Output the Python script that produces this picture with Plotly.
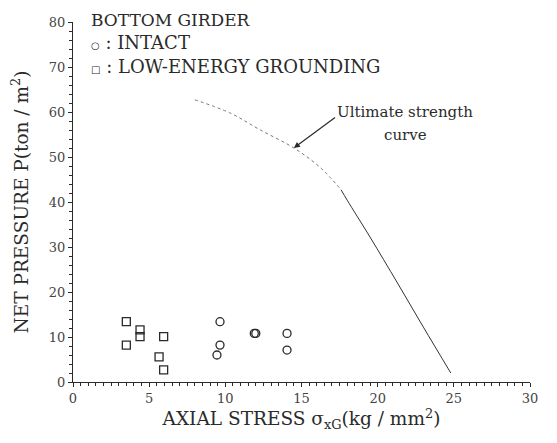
import plotly.graph_objects as go

# Data
intact_x = [9.65, 9.65, 9.45, 11.9, 12.0, 14.05, 14.05]
intact_y = [13.4, 8.2, 6.0, 10.8, 10.8, 10.8, 7.1]

ground_x = [3.5, 3.5, 4.4, 4.4, 5.95, 5.65, 5.95]
ground_y = [13.4, 8.2, 11.6, 10.1, 10.1, 5.6, 2.7]

curve_dot_x = [8.0, 10.3, 12.3, 14.5, 16.25, 17.6]
curve_dot_y = [62.7, 59.8, 56.0, 52.0, 47.6, 42.7]
curve_solid_x = [17.6, 18.0, 19.5, 21.3, 23.0, 24.8]
curve_solid_y = [42.7, 40.4, 32.2, 22.0, 12.2, 2.0]

x_ticks = [0, 5, 10, 15, 20, 25, 30]
y_ticks = [0, 10, 20, 30, 40, 50, 60, 70, 80]

FONT = "DejaVu Serif"
INK = "#2a2a2a"

# page body has an 8px margin
W, H = 549, 435
L, R, T, B = 65, 27, 14, 61
PW, PH = W - L - R, H - T - B

fig = go.Figure()
fig.add_trace(go.Scatter(x=curve_dot_x, y=curve_dot_y, mode="lines", line_shape="spline",
                         line=dict(color="#777", width=1, dash="dot"),
                         showlegend=False, hoverinfo="skip"))
fig.add_trace(go.Scatter(x=curve_solid_x, y=curve_solid_y, mode="lines", line_shape="spline",
                         line=dict(color="#333", width=1),
                         showlegend=False, hoverinfo="skip"))
fig.add_trace(go.Scatter(x=intact_x, y=intact_y, mode="markers",
                         marker=dict(symbol="circle-open", size=8, color=INK,
                                     line=dict(width=1.3, color=INK)),
                         name="INTACT", showlegend=False))
fig.add_trace(go.Scatter(x=ground_x, y=ground_y, mode="markers",
                         marker=dict(symbol="square-open", size=8, color=INK,
                                     line=dict(width=1.3, color=INK)),
                         name="LOW-ENERGY GROUNDING", showlegend=False))

annots = [
    dict(x=(89 - 73) / PW, y=1 + (T - 0.5) / PH, xref="paper", yref="paper",
         text="BOTTOM GIRDER",
         showarrow=False, xanchor="left", yanchor="top",
         font=dict(family=FONT, size=17, color=INK)),
    dict(x=1.05, y=75.5, xref="x", yref="y",
         text="<span style='font-size:10px'>○</span> : INTACT",
         showarrow=False, xanchor="left", yanchor="middle",
         font=dict(family=FONT, size=18, color=INK)),
    dict(x=1.05, y=70.2, xref="x", yref="y",
         text="<span style='font-size:10px'>□</span> : LOW-ENERGY GROUNDING",
         showarrow=False, xanchor="left", yanchor="middle",
         font=dict(family=FONT, size=18, color=INK)),
    dict(x=21.8, y=60.0, xref="x", yref="y", text="Ultimate strength",
         showarrow=False, xanchor="center", yanchor="middle",
         font=dict(family=FONT, size=15, color=INK)),
    dict(x=21.8, y=55.0, xref="x", yref="y", text="curve",
         showarrow=False, xanchor="center", yanchor="middle",
         font=dict(family=FONT, size=15, color=INK)),
    dict(x=14.5, y=52.0, xref="x", yref="y", ax=17.3, ay=59.0,
         axref="x", ayref="y", text="", showarrow=True,
         arrowhead=2, arrowsize=1, arrowwidth=1.2, arrowcolor=INK),
]

fig.update_layout(
    width=W, height=H,
    margin=dict(l=L, r=R, t=T, b=B),
    paper_bgcolor="white", plot_bgcolor="white",
    font=dict(family=FONT, color=INK, size=13),
    annotations=annots,
    xaxis=dict(range=[0, 30], tickvals=x_ticks, ticktext=[str(v) for v in x_ticks],
               automargin=False,
               showgrid=False, zeroline=False, showline=True, linecolor=INK,
               linewidth=1.2, ticks="outside", ticklen=4, tickcolor=INK,
               minor=dict(dtick=0.5, ticks="outside", ticklen=3, tickcolor=INK),
               tickfont=dict(family=FONT, size=13, color="#444"),
               title=dict(text="AXIAL STRESS σ<sub>xG</sub>(kg / mm<sup>2</sup>)",
                          font=dict(family=FONT, size=18.5, color=INK), standoff=6)),
    yaxis=dict(range=[0, 80], tickvals=y_ticks, ticktext=[str(v) for v in y_ticks],
               automargin=False,
               showgrid=False, zeroline=False, showline=True, linecolor=INK,
               linewidth=1.2, ticks="outside", ticklen=4, tickcolor=INK,
               minor=dict(dtick=2, ticks="outside", ticklen=3, tickcolor=INK),
               tickfont=dict(family=FONT, size=13, color="#444"),
               title=dict(text="NET PRESSURE P(ton / m<sup>2</sup>)",
                          font=dict(family=FONT, size=18.5, color=INK), standoff=16)),
)

fig.write_html("out.html")
